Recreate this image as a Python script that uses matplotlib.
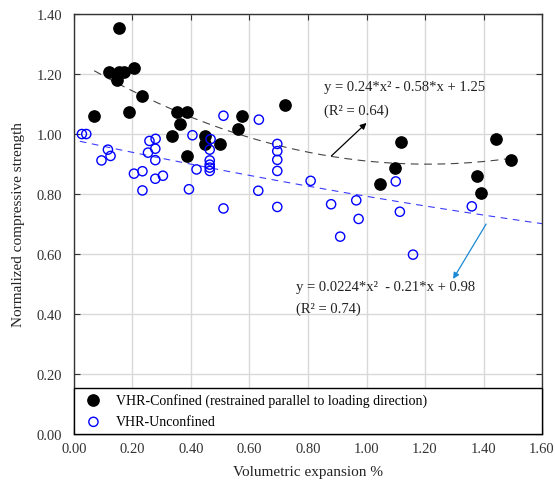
import numpy as np
import matplotlib
matplotlib.use("Agg")
import matplotlib.pyplot as plt

plt.rcParams['font.family'] = ['Liberation Serif', 'DejaVu Serif']

# VHR-Confined (filled)
conf_x = [0.155, 0.120, 0.155, 0.172, 0.148, 0.206, 0.069, 0.189, 0.233, 0.352,
          0.388, 0.362, 0.335, 0.388, 0.447, 0.447, 0.498, 0.574, 0.561, 0.721,
          1.117, 1.099, 1.047, 1.441, 1.494, 1.379, 1.392]
conf_y = [1.353, 1.207, 1.207, 1.207, 1.180, 1.220, 1.060, 1.072, 1.127, 1.072,
          1.072, 1.032, 0.993, 0.926, 0.993, 0.966, 0.966, 1.061, 1.017, 1.096,
          0.973, 0.887, 0.832, 0.984, 0.913, 0.861, 0.804]

# VHR-Unconfined (open)
unc_x = [0.027, 0.042, 0.116, 0.125, 0.094, 0.258, 0.279, 0.278, 0.253, 0.278,
         0.205, 0.234, 0.278, 0.304, 0.234, 0.393, 0.405, 0.419, 0.467, 0.464,
         0.464, 0.464, 0.464, 0.464, 0.511, 0.632, 0.695, 0.695, 0.695, 0.695,
         0.630, 0.809, 0.511, 0.695, 0.879, 0.965, 0.973, 0.910, 1.100, 1.114,
         1.159, 1.360]
unc_y = [1.000, 1.000, 0.948, 0.927, 0.912, 0.977, 0.984, 0.951, 0.938, 0.913,
         0.868, 0.876, 0.851, 0.861, 0.812, 0.816, 0.996, 0.882, 0.983, 0.948,
         0.912, 0.898, 0.888, 0.877, 1.061, 1.048, 0.967, 0.943, 0.914, 0.877,
         0.811, 0.844, 0.752, 0.757, 0.766, 0.779, 0.717, 0.658, 0.842, 0.741,
         0.598, 0.759]

# trend line coefficients (a*x^2 + b*x + c)
conf_fit = [0.24, -0.58, 1.25]
unc_fit = [0.0224, -0.21, 0.98]

x_ticks = np.arange(0, 1.61, 0.2)
y_ticks = np.arange(0, 1.41, 0.2)

fig = plt.figure(figsize=(5.55, 4.85), dpi=100)
ax = fig.add_axes([0.1333, 0.103, 0.8433, 0.866])

ax.grid(True, color='#d9d9d9', linewidth=1.0, zorder=0)
ax.set_axisbelow(True)

xc = np.linspace(0.069, 1.494, 200)
ax.plot(xc, np.polyval(conf_fit, xc), color='#444444', linestyle=(0, (7, 5)),
        linewidth=0.8, zorder=2)
xu = np.linspace(0.02, 1.6, 200)
ax.plot(xu, np.polyval(unc_fit, xu), color='#3b3bff', linestyle=(0, (6, 5)),
        linewidth=0.8, zorder=2)

ax.scatter(conf_x, conf_y, s=66, color='black', zorder=3,
           label='VHR-Confined (restrained parallel to loading direction)')
ax.scatter(unc_x, unc_y, s=44, facecolors='none', edgecolors='#0000ff',
           linewidths=1.0, zorder=3, label='VHR-Unconfined')

ax.text(0.856, 1.157, 'y = 0.24*x\u00b2 - 0.58*x + 1.25', fontsize=10.5,
        va='center', color='#222222')
ax.text(0.856, 1.080, '(R\u00b2 = 0.64)', fontsize=10.5, va='center', color='#222222')
ax.annotate('', xy=(1.0, 1.037), xytext=(0.880, 0.927),
            arrowprops=dict(arrowstyle='-|>', color='black', lw=0.9,
                            mutation_scale=9, shrinkA=0, shrinkB=0))

ax.text(0.759, 0.493, 'y = 0.0224*x\u00b2  - 0.21*x + 0.98', fontsize=10.5,
        va='center', color='#222222')
ax.text(0.759, 0.420, '(R\u00b2 = 0.74)', fontsize=10.5, va='center', color='#222222')
ax.annotate('', xy=(1.296, 0.517), xytext=(1.409, 0.70),
            arrowprops=dict(arrowstyle='-|>', color='#1a8ad4', lw=0.9,
                            mutation_scale=9, shrinkA=0, shrinkB=0))

ax.set_xlim(0, 1.6)
ax.set_ylim(0, 1.4)
ax.set_xticks(x_ticks)
ax.set_yticks(y_ticks)
ax.set_xticklabels(['%.2f' % v for v in x_ticks], fontsize=10.5)
ax.set_yticklabels(['%.2f' % v for v in y_ticks], fontsize=10.5)
ax.tick_params(direction='in', top=True, right=True, length=4, colors='#333333')
ax.tick_params(axis='y', pad=8.5)
ax.tick_params(axis='x', pad=5.5)
for lbl in ax.get_yticklabels():
    lbl.set_y(lbl.get_position()[1])
for sp in ax.spines.values():
    sp.set_color('#333333')
    sp.set_linewidth(1.0)

ax.set_xlabel('Volumetric expansion %', fontsize=11, color='#222222', labelpad=7.5)
ax.set_ylabel('Normalized compressive strength', fontsize=11, color='#222222',
              labelpad=8)

leg = ax.legend(loc='lower left', bbox_to_anchor=(0, 0, 1, 0.117), mode='expand',
                borderaxespad=0, fancybox=False, framealpha=1, edgecolor='black',
                fontsize=10, handletextpad=0.6, labelspacing=0.6, borderpad=0.4)
leg.get_frame().set_linewidth(1.0)

fig.savefig('out.png', dpi=100)
